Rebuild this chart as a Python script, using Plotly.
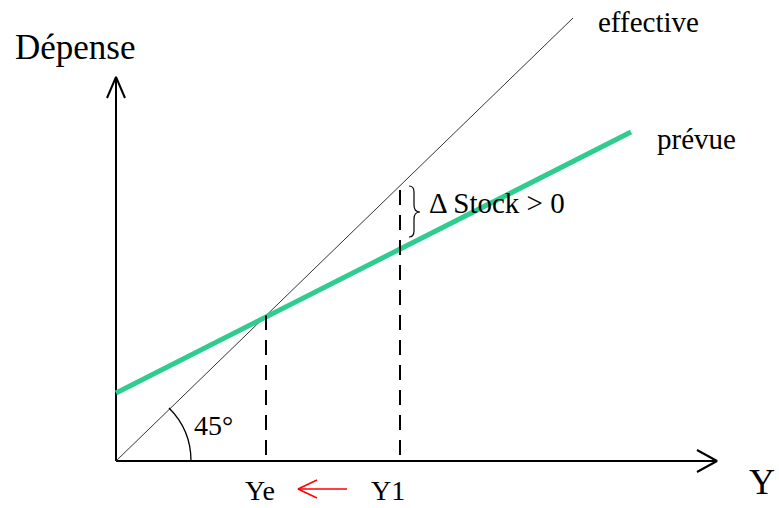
import plotly.graph_objects as go

# ---- model values (units along the axes) ----
ye = 150          # equilibrium income Ye
y1 = 284          # income Y1
eff_x = [0, 457]  # effective expenditure line (45°)
eff_y = [0, 443]
plan_x = [0, 515] # planned expenditure line
plan_y = [68, 329]
x_axis_end = 601
y_axis_end = 384

FONT = "Liberation Serif"
GREEN = "#2ecc8f"

fig = go.Figure()

def seg(xs, ys, color="black", width=2, dash=None):
    fig.add_trace(go.Scatter(x=xs, y=ys, mode="lines",
                             line=dict(color=color, width=width, dash=dash),
                             hoverinfo="skip", showlegend=False))

# axes
seg([0, x_axis_end], [0, 0], width=2)
seg([0, 0], [0, y_axis_end], width=2)
# arrowheads (open chevrons)
seg([-9, 0, 9], [y_axis_end - 21, y_axis_end, y_axis_end - 21], width=2)
seg([x_axis_end - 20, x_axis_end, x_axis_end - 20], [11, 0, -11], width=2)

# effective line (45°)
seg(eff_x, eff_y, color="#333333", width=1)
# planned line
seg(plan_x, plan_y, color=GREEN, width=5)

# dashed verticals
eff_slope = eff_y[1] / eff_x[1]
seg([ye, ye], [6, ye * eff_slope], width=2, dash="15px,10px")
seg([y1, y1], [6, y1 * eff_slope], width=2, dash="15px,10px")

# red arrow Y1 -> Ye
seg([231, 182], [-28, -28], color="red", width=1.5)
seg([201, 182, 201], [-19, -28, -37], color="red", width=1.5)

# 45° arc (bezier approximation)
fig.add_shape(type="path", xref="x", yref="y",
              path="M 75,0 C 75,19.9 67.1,39 53,53",
              line=dict(color="black", width=1.3))

# curly brace
fig.add_shape(type="path", xref="x", yref="y",
              path=("M 293,275 C 296,275 298,273 298,269 L 298,256 "
                    "C 298,252 300,249 304,249 C 300,249 298,246 298,242 "
                    "L 298,230 C 298,226 296,224 293,224"),
              line=dict(color="black", width=1.2))

def label(x, y, text, size, xanchor="center"):
    fig.add_annotation(x=x, y=y, text=text, showarrow=False,
                       xanchor=xanchor, yanchor="middle",
                       font=dict(family=FONT, size=size, color="black"))

label(-41, 414, "Dépense", 35)
label(532, 439, "effective", 29)
label(580, 322, "prévue", 29)
label(381, 258, "Δ Stock > 0", 29)
label(97, 36, "45°", 28)
label(ye - 6, -29, "Ye", 28)
label(y1 - 12, -29, "Y1", 28)
label(646, -21, "Y", 36)

fig.update_xaxes(range=[-116, 663], visible=False, fixedrange=True)
fig.update_yaxes(range=[-47, 461], visible=False, fixedrange=True)
fig.update_layout(width=779, height=508, margin=dict(l=0, r=0, t=0, b=0),
                  plot_bgcolor="white", paper_bgcolor="white",
                  hovermode=False)

fig.write_html("out.html",
               config={"displayModeBar": False, "staticPlot": True},
               post_script="document.body.style.margin='0';"
                           "document.body.style.overflow='hidden';")
